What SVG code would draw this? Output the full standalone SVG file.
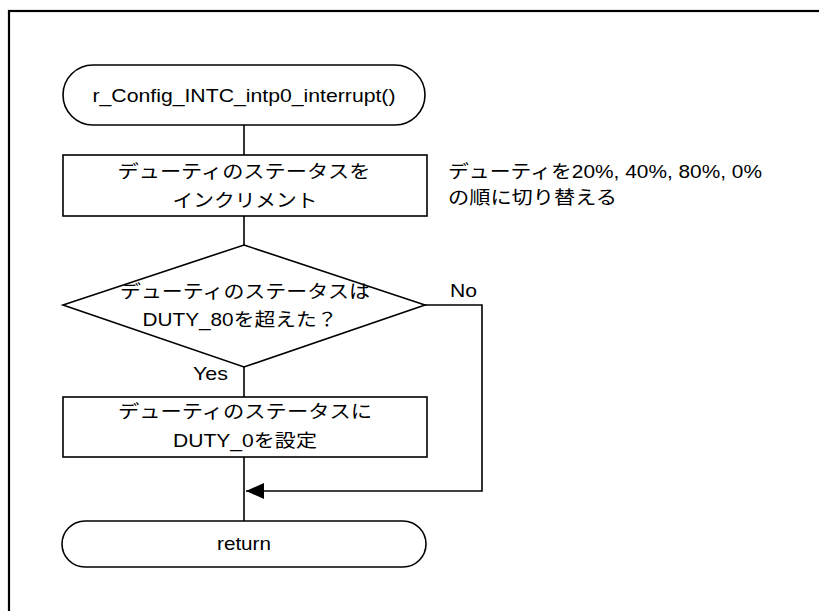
<svg xmlns="http://www.w3.org/2000/svg" width="819" height="611" viewBox="0 0 819 611">
<style>
.s{fill:#fff;stroke:#000;stroke-width:1.6}
.c{fill:none;stroke:#000;stroke-width:1.6}
text{font-family:"Liberation Sans","Noto Sans CJK JP",sans-serif;font-size:18.5px;fill:#000}
.m{text-anchor:middle}
</style>
<defs>
<marker id="ah" markerWidth="18" markerHeight="16" refX="18" refY="8" orient="auto" markerUnits="userSpaceOnUse">
<path d="M0,0 L18,8 L0,16 Z" fill="#000"/>
</marker>
</defs>
<rect width="819" height="611" fill="#fff"/>
<rect x="9" y="11" width="830" height="620" fill="none" stroke="#000" stroke-width="2.2"/>
<g id="connectors">
<line class="c" x1="244" y1="125" x2="244" y2="155"/>
<line class="c" x1="244" y1="216" x2="244" y2="245"/>
<line class="c" x1="244" y1="367" x2="244" y2="397"/>
<line class="c" x1="244" y1="457" x2="244" y2="521"/>
<polyline class="c" points="425,305 482,305 482,491 246,491" marker-end="url(#ah)"/>
<text x="450" y="297" textLength="27" lengthAdjust="spacingAndGlyphs">No</text>
<text x="193" y="380" textLength="35" lengthAdjust="spacingAndGlyphs">Yes</text>
</g>
<g id="start">
<rect class="s" x="63" y="65" width="362" height="60" rx="30" ry="30"/>
<text class="m" x="244" y="102" textLength="303" lengthAdjust="spacingAndGlyphs">r_Config_INTC_intp0_interrupt()</text>
</g>
<g id="increment">
<rect class="s" x="63" y="155" width="364" height="61"/>
<text class="m" x="244" y="178" textLength="253" lengthAdjust="spacingAndGlyphs">デューティのステータスを</text>
<text class="m" x="245" y="207" textLength="145" lengthAdjust="spacingAndGlyphs">インクリメント</text>
</g>
<g id="note">
<text x="448" y="178" textLength="314" lengthAdjust="spacingAndGlyphs">デューティを20%, 40%, 80%, 0%</text>
<text x="448" y="204" textLength="169" lengthAdjust="spacingAndGlyphs">の順に切り替える</text>
</g>
<g id="decision">
<polygon class="s" points="244,245 425,305 244,367 63,305"/>
<text class="m" x="245" y="298" textLength="250" lengthAdjust="spacingAndGlyphs">デューティのステータスは</text>
<text class="m" x="240" y="326" textLength="195" lengthAdjust="spacingAndGlyphs">DUTY_80を超えた？</text>
</g>
<g id="set0">
<rect class="s" x="63" y="397" width="364" height="60"/>
<text class="m" x="245" y="418" textLength="254" lengthAdjust="spacingAndGlyphs">デューティのステータスに</text>
<text class="m" x="245" y="447" textLength="144" lengthAdjust="spacingAndGlyphs">DUTY_0を設定</text>
</g>
<g id="return">
<rect class="s" x="62" y="521" width="364" height="46" rx="23" ry="23"/>
<text class="m" x="244" y="550" textLength="54" lengthAdjust="spacingAndGlyphs">return</text>
</g>
</svg>
